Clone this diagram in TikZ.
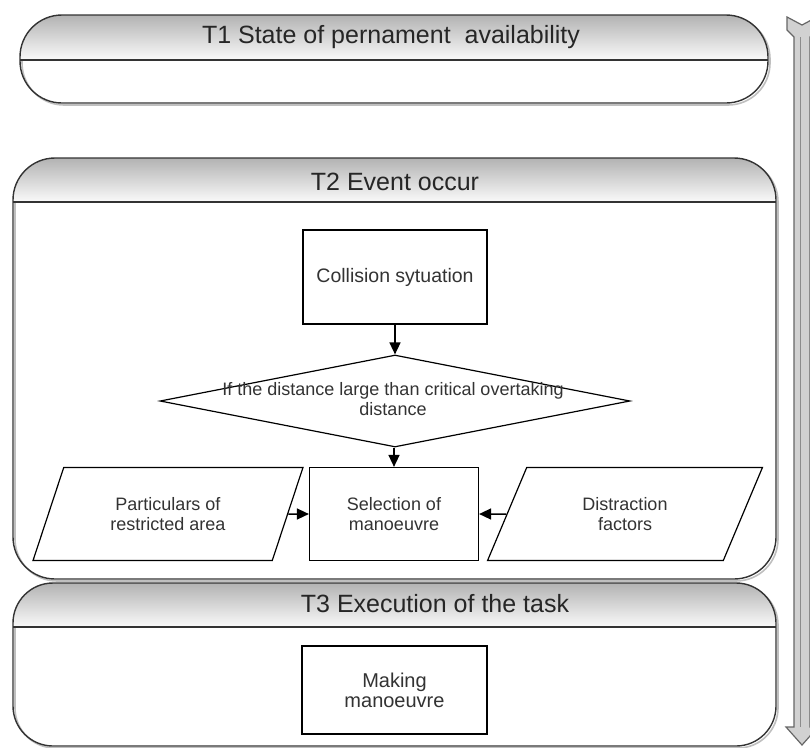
\documentclass[tikz,border=0pt]{standalone}
\usepackage{fontspec}
\setmainfont{Liberation Sans}
\usetikzlibrary{shapes.geometric,arrows.meta}
\begin{document}
\begin{tikzpicture}[x=1pt,y=-1pt,
  frame/.style={draw=black!80, line width=1.4pt},
  hdr/.style={top color=black!30, bottom color=black!2},
  shadowc/.style={draw=black!25, line width=1.6pt},
  box/.style={draw=black, line width=1.2pt, align=center, font=\fontsize{18}{20}\selectfont, text=black!80, inner sep=0pt},
  para/.style={trapezium, trapezium stretches=true, trapezium left angle=63, trapezium right angle=117, draw=black, line width=1.2pt, align=center, font=\fontsize{18}{20}\selectfont, text=black!80, inner sep=0pt},
  arr/.style={-{Triangle[length=12pt,width=11pt]}, line width=1.5pt},
  title/.style={font=\fontsize{25}{28}\selectfont, text=black!85, inner sep=0pt},
  bigarrow/.style={fill=black!18, draw=black!60, line width=1.2pt}
]
\useasboundingbox (0,0) rectangle (810,747);
\fill[white] (0,0) rectangle (810,747);

% T1
\draw[shadowc, rounded corners=42] (22,17) rectangle (770,105);
\begin{scope}
  \clip[rounded corners=42] (20,15) rectangle (768,103);
  \shade[hdr] (20,15) rectangle (768,60);
\end{scope}
\draw[frame, rounded corners=42] (20,15) rectangle (768,103);
\draw[frame] (20,60) -- (768,60);
\node[title] (t1) at (391,37) {T1 State of pernament\ \ availability};

% T2
\draw[shadowc, rounded corners=42] (15,160) rectangle (778,581);
\begin{scope}
  \clip[rounded corners=42] (13,158) rectangle (776,579);
  \shade[hdr] (13,158) rectangle (776,202);
\end{scope}
\draw[frame, rounded corners=42] (13,158) rectangle (776,579);
\draw[frame] (13,202) -- (776,202);
\node[title] (t2) at (395,182) {T2 Event occur};

% T3
\draw[shadowc, rounded corners=40] (15,585) rectangle (778,748);
\begin{scope}
  \clip[rounded corners=40] (13,583) rectangle (776,746);
  \shade[hdr] (13,583) rectangle (776,627);
\end{scope}
\draw[frame, rounded corners=40] (13,583) rectangle (776,746);
\draw[frame] (13,627) -- (776,627);
\node[title] (t3) at (435,604) {T3 Execution of the task};

% T2 content
\node[box, minimum width=184pt, minimum height=94pt, font=\fontsize{19.5}{22}\selectfont] (col) at (395,277) {Collision sytuation};
\node[diamond, draw=black, line width=1.2pt, minimum width=470pt, minimum height=92pt, inner sep=0pt] (dec) at (395,401) {};
\node[font=\fontsize{18}{20}\selectfont, text=black!80, align=center, inner sep=0pt] (dect) at (393,399) {If the distance large than critical overtaking\\distance};
\node[box, minimum width=169pt, minimum height=93pt] (sel) at (394,514) {Selection of\\manoeuvre};
\node[para, minimum width=270pt, minimum height=93pt] (par) at (168,514) {Particulars of\\restricted area};
\node[para, minimum width=275pt, minimum height=93pt] (dis) at (625,514) {Distraction\\factors};

\draw[arr] (col.south) -- (col.south |- dec.north);
\draw[arr] (sel.north |- dec.south) -- (sel.north);
\draw[arr] (par.east) -- (sel.west);
\draw[arr] (dis.west) -- (sel.east);

% T3 content
\node[box, minimum width=185pt, minimum height=88pt, font=\fontsize{20}{20}\selectfont] (mak) at (394.5,690) {Making\\manoeuvre};

% right block arrow
\draw[bigarrow] (787,17) -- (802,25) -- (817,17) -- (817,30) -- (810,37) -- (810,727) -- (818,727)
  -- (802,745) -- (786,727) -- (794,727) -- (794,37) -- (787,30) -- cycle;
\draw[black!45, line width=0.8pt] (800,37) -- (800,727);
\end{tikzpicture}
\end{document}
